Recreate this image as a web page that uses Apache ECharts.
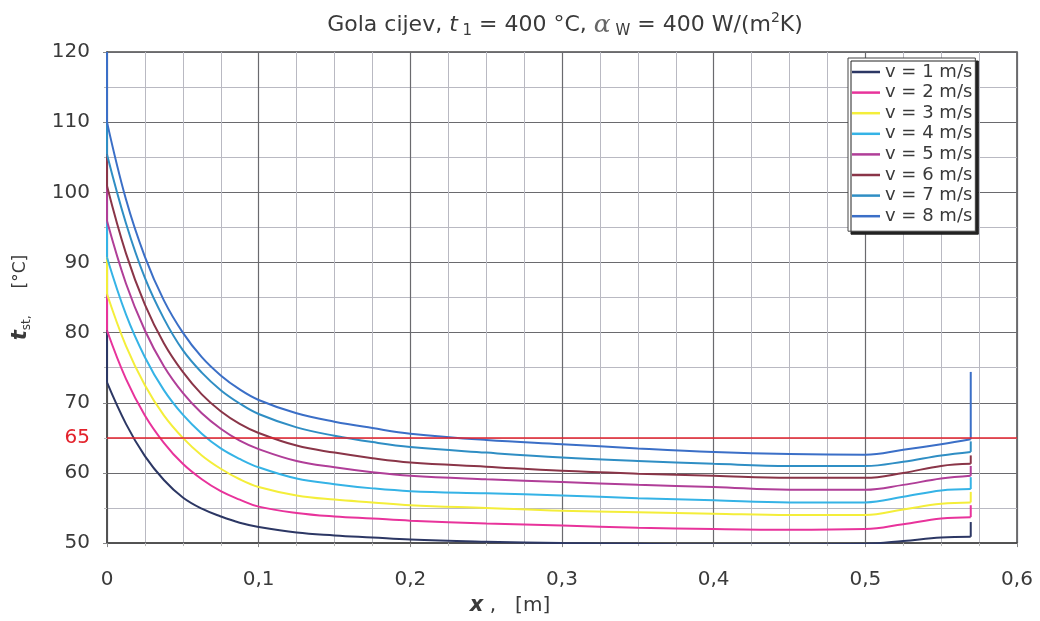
<!DOCTYPE html>
<html>
<head>
<meta charset="utf-8">
<script src="https://cdn.jsdelivr.net/npm/echarts@6/dist/echarts.min.js"></script>
<style>
html,body{margin:0;padding:0;background:#fff;}
#c{width:1040px;height:621px;}
</style>
</head>
<body>
<div id="c"></div>
<script>
// x positions [m]: first point = vertical entry at x=0, last point = vertical rise at the tube end
var xs = [0, 0, 0.0125, 0.025, 0.0375, 0.05, 0.0625, 0.075, 0.0875, 0.1, 0.125, 0.15, 0.175, 0.2, 0.25, 0.3, 0.35, 0.4, 0.45, 0.5, 0.525, 0.55, 0.5695, 0.5695];

var names = ['v = 1 m/s','v = 2 m/s','v = 3 m/s','v = 4 m/s','v = 5 m/s','v = 6 m/s','v = 7 m/s','v = 8 m/s'];

var v1 = [120, 72.9, 67.0, 62.4, 59.0, 56.5, 54.9, 53.8, 52.9, 52.3, 51.5, 51.1, 50.8, 50.5, 50.2, 50.0, 49.9, 49.8, 49.8, 49.9, 50.3, 50.8, 50.9, 53.0];
var v2 = [120, 80.3, 73.4, 68.2, 64.3, 61.3, 59.1, 57.4, 56.2, 55.2, 54.3, 53.8, 53.5, 53.2, 52.8, 52.5, 52.2, 52.0, 51.9, 52.0, 52.7, 53.5, 53.7, 55.4];
var v3 = [120, 85.5, 78.1, 72.5, 68.2, 65.0, 62.5, 60.6, 59.1, 58.0, 56.8, 56.2, 55.8, 55.4, 55.0, 54.6, 54.4, 54.2, 54.0, 54.0, 54.8, 55.6, 55.8, 57.3];
var v4 = [120, 90.7, 82.6, 76.5, 71.8, 68.3, 65.6, 63.5, 62.0, 60.8, 59.2, 58.4, 57.8, 57.4, 57.1, 56.8, 56.4, 56.1, 55.8, 55.8, 56.6, 57.5, 57.7, 59.4];
var v5 = [120, 95.9, 87.0, 80.3, 75.2, 71.4, 68.5, 66.3, 64.6, 63.4, 61.7, 60.8, 60.1, 59.6, 59.1, 58.7, 58.3, 58.0, 57.6, 57.6, 58.3, 59.2, 59.6, 61.0];
var v6 = [120, 100.9, 91.3, 84.0, 78.5, 74.4, 71.2, 68.8, 67.0, 65.7, 63.9, 62.9, 62.1, 61.5, 60.9, 60.3, 59.9, 59.6, 59.3, 59.3, 60.0, 61.0, 61.3, 62.5];
var v7 = [120, 105.4, 95.6, 87.8, 82.0, 77.5, 74.3, 71.8, 69.9, 68.4, 66.5, 65.3, 64.4, 63.7, 62.9, 62.2, 61.7, 61.3, 61.0, 61.0, 61.6, 62.5, 63.0, 64.5];
var v8 = [120, 110.0, 99.0, 90.8, 84.6, 80.0, 76.5, 73.9, 71.9, 70.4, 68.5, 67.3, 66.4, 65.6, 64.7, 64.1, 63.5, 63.0, 62.7, 62.6, 63.3, 64.1, 64.8, 74.4];

var colors = ['#2c3764', '#e8339b', '#f4ee3a', '#35b3e6', '#b03e98', '#8a3548', '#2f8ec4', '#3b6fc7'];

var limitValue = 65;
var yTicks = [50, 60, 70, 80, 90, 100, 110, 120];
var xTickLabels = ['0', '0,1', '0,2', '0,3', '0,4', '0,5', '0,6'];

var allValues = [v1, v2, v3, v4, v5, v6, v7, v8];

var FONT = '"DejaVu Sans", "Liberation Sans", Arial, sans-serif';
var TXT = '#3a3a3a';

function pairs(vals, from, to) {
  var out = [];
  for (var i = from; i <= to; i++) out.push([xs[i], vals[i]]);
  return out;
}

var series = [];
allValues.forEach(function (vals, k) {
  var n = xs.length;
  var base = {
    name: names[k],
    type: 'line',
    symbol: 'none',
    showSymbol: false,
    clip: true,
    lineStyle: { color: colors[k], width: 2 },
    itemStyle: { color: colors[k] },
    silent: true
  };
  // main curve
  series.push(Object.assign({}, base, { data: pairs(vals, 1, n - 2), smooth: 0.4 }));
  // vertical entry at x = 0
  series.push(Object.assign({}, base, { data: pairs(vals, 0, 1), smooth: false }));
  // vertical rise at the tube end
  series.push(Object.assign({}, base, { data: pairs(vals, n - 2, n - 1), smooth: false }));
});

series.push({
  name: 'limit',
  type: 'line',
  data: [],
  symbol: 'none',
  z: 5,
  markLine: {
    silent: true,
    symbol: ['none', 'none'],
    lineStyle: { color: '#e3222c', width: 1.6, type: 'solid' },
    label: {
      show: true,
      position: 'start',
      distance: 17,
      formatter: String(limitValue),
      color: '#e3222c',
      fontSize: 20,
      fontFamily: FONT
    },
    data: [{ yAxis: limitValue }]
  }
});

var chart = echarts.init(document.getElementById('c'), null, { renderer: 'canvas' });

chart.setOption({
  backgroundColor: '#ffffff',
  animation: false,
  title: {
    left: 560,
    textAlign: 'center',
    top: 6,
    text: '{a|Gola cijev, }{i|t}{sub| 1}{a| = 400 °C, }{al|α}{sub| W}{a| = 400 W/(m}{sup|2}{a|K)}',
    textStyle: {
      fontWeight: 'normal',
      rich: {
        a: { fontSize: 22, fontFamily: FONT, fontWeight: 'normal', color: TXT, lineHeight: 28 },
        i: { fontSize: 22, fontFamily: FONT, fontWeight: 'normal', fontStyle: 'italic', color: TXT, lineHeight: 28 },
        al: { fontSize: 25, fontFamily: '"DejaVu Serif", serif', fontWeight: 'normal', fontStyle: 'italic', color: '#666', lineHeight: 28 },
        sub: { fontSize: 15, fontFamily: FONT, fontWeight: 'normal', color: TXT, lineHeight: 15, verticalAlign: 'bottom' },
        sup: { fontSize: 14, fontFamily: FONT, fontWeight: 'normal', color: TXT, lineHeight: 15, verticalAlign: 'top' }
      }
    }
  },
  legend: {
    data: names,
    orient: 'vertical',
    left: 848,
    top: 58,
    icon: 'rect',
    itemWidth: 28,
    itemHeight: 2.5,
    itemGap: 2.6,
    padding: [5, 3, 6, 4],
    backgroundColor: '#ffffff',
    borderColor: '#444',
    borderWidth: 1,
    shadowColor: '#222',
    shadowOffsetX: 3,
    shadowOffsetY: 3,
    shadowBlur: 0,
    textStyle: { fontSize: 18, lineHeight: 17, fontFamily: FONT, color: TXT },
    selectedMode: false
  },
  grid: {
    left: 107,
    right: 23,
    top: 52,
    bottom: 76,
    show: true,
    borderColor: '#4a4a4a',
    borderWidth: 1.5,
    containLabel: false
  },
  xAxis: {
    type: 'value',
    min: 0,
    max: 0.6,
    interval: 0.1,
    name: '{bi|x}{n| ,   [m]}',
    nameLocation: 'middle',
    nameGap: 48,
    nameTextStyle: {
      padding: [0, 104, 0, 0],
      rich: {
        bi: { fontSize: 21, fontFamily: FONT, fontWeight: 'bold', fontStyle: 'italic', color: TXT },
        n: { fontSize: 20, fontFamily: FONT, color: TXT }
      }
    },
    axisLine: { show: true, lineStyle: { color: '#4a4a4a', width: 1.5 } },
    axisTick: { show: true, length: 4, lineStyle: { color: '#888' } },
    minorTick: { show: true, splitNumber: 4, length: 3, lineStyle: { color: '#bbb' } },
    axisLabel: {
      margin: 27,
      fontSize: 20,
      fontFamily: FONT,
      color: TXT,
      formatter: function (v) {
        var idx = Math.round(v * 10);
        return xTickLabels[idx] !== undefined ? xTickLabels[idx] : '';
      }
    },
    splitLine: { show: true, lineStyle: { color: '#6a6a6e', width: 1.2 } },
    minorSplitLine: { show: true, lineStyle: { color: '#b9b9c2', width: 1 } }
  },
  yAxis: {
    type: 'value',
    min: 50,
    max: 120,
    interval: 10,
    name: '{ti|t}{sub|st,}{n|     [°C]}',
    nameLocation: 'middle',
    nameGap: 74,
    nameTextStyle: {
      rich: {
        ti: { fontSize: 21, fontFamily: FONT, fontWeight: 'bold', fontStyle: 'italic', color: TXT, lineHeight: 24 },
        sub: { fontSize: 12, fontFamily: FONT, color: TXT, lineHeight: 12, verticalAlign: 'bottom' },
        n: { fontSize: 17, fontFamily: FONT, color: TXT, lineHeight: 24 }
      }
    },
    axisLine: { show: true, lineStyle: { color: '#4a4a4a', width: 1.5 } },
    axisTick: { show: true, length: 4, lineStyle: { color: '#888' } },
    minorTick: { show: true, splitNumber: 2, length: 3, lineStyle: { color: '#bbb' } },
    axisLabel: {
      margin: 17,
      fontSize: 20,
      fontFamily: FONT,
      color: TXT,
      formatter: function (v) { return yTicks.indexOf(v) >= 0 ? String(v) : ''; }
    },
    splitLine: { show: true, lineStyle: { color: '#6a6a6e', width: 1.2 } },
    minorSplitLine: { show: true, lineStyle: { color: '#b9b9c2', width: 1 } }
  },
  series: series
});
</script>
</body>
</html>
